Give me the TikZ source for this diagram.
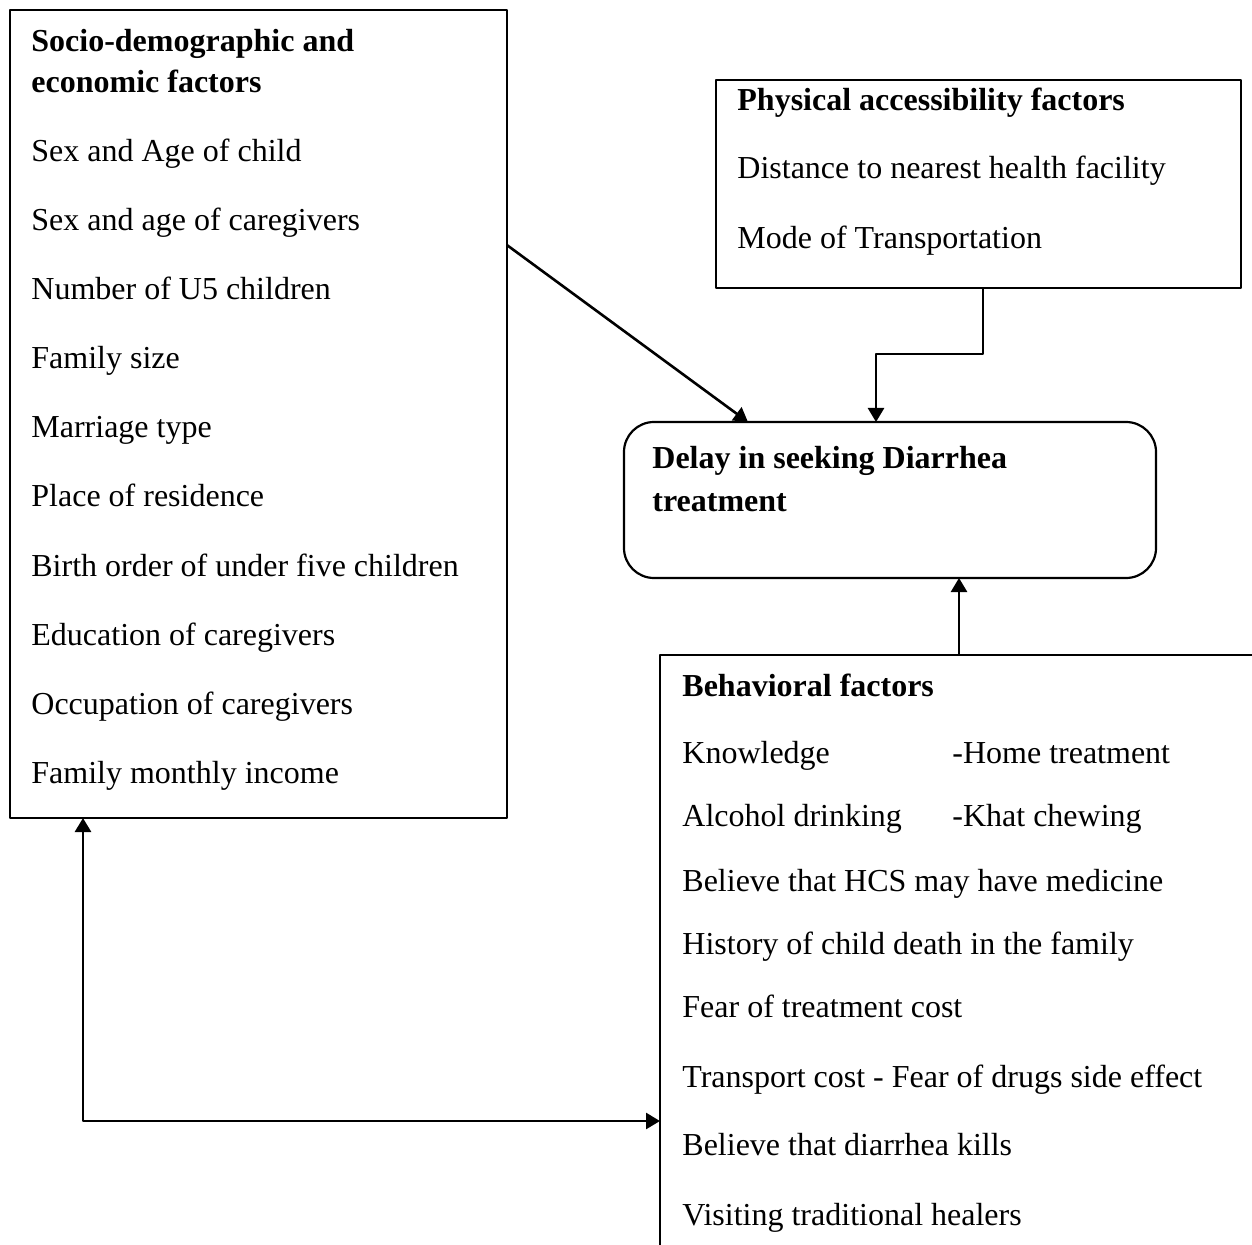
\documentclass[tikz,border=0pt]{standalone}
\usepackage{fontspec}
\setmainfont{Liberation Serif}
\usetikzlibrary{arrows.meta,calc}
\tikzset{
	box/.style={draw,line width=1.1pt,inner sep=0pt,outer sep=0pt},
	txt/.style={anchor=base west,inner sep=0pt},
	ttl/.style={txt,font=\fontsize{16}{18}\selectfont\bfseries},
	conn/.style={line width=1.3pt}
}
\begin{document}
\begin{tikzpicture}[x=0.5pt,y=-0.5pt,>={Triangle[length=7pt,width=8pt]},line join=round,font=\fontsize{16}{18}\selectfont]
	\useasboundingbox (0,0) rectangle (1252,1245);
	% boxes
	\node[box,minimum width=248.5pt,minimum height=404pt] (soc) at (258.5,414) {};
	\node[box,minimum width=262.5pt,minimum height=104pt] (phys) at (978.5,184) {};
	\node[box,rounded corners=15pt,minimum width=266pt,minimum height=78pt] (delay) at (890,500) {};
	\node[box,minimum width=320pt,minimum height=322.5pt] (beh) at (980,977.5) {};
	% socio-demographic
	\node[ttl] (soct1) at (31,52) {Socio-demographic and};
	\node[ttl] (soct2) at (31,93) {economic factors};
	\foreach \t [count=\i] in {Sex and Age of child,Sex and age of caregivers,Number of U5 children,Family size,Marriage type,Place of residence,Birth order of under five children,Education of caregivers,Occupation of caregivers,Family monthly income}
		\node[txt] (soc\i) at (31,{93+69*\i}) {\t};
	% physical accessibility
	\node[ttl] (physt) at (737,111) {Physical accessibility factors};
	\node[txt] (phys1) at (737,179) {Distance to nearest health facility};
	\node[txt] (phys2) at (737,249) {Mode of Transportation};
	% outcome
	\node[ttl] (delt1) at (652,469) {Delay in seeking Diarrhea};
	\node[ttl] (delt2) at (652,512) {treatment};
	% behavioral
	\node[ttl] (beht) at (682,696) {Behavioral factors};
	\node[txt] (beh1) at (682,763) {Knowledge};
	\node[txt] (beh1b) at (952,763) {-Home treatment};
	\node[txt] (beh2) at (682,826) {Alcohol drinking};
	\node[txt] (beh2b) at (952,826) {-Khat chewing};
	\node[txt] (beh3) at (682,891) {Believe that HCS may have medicine};
	\node[txt] (beh4) at (682,954) {History of child death in the family};
	\node[txt] (beh5) at (682,1017) {Fear of treatment cost};
	\node[txt] (beh6) at (682,1087) {Transport cost - Fear of drugs side effect};
	\node[txt] (beh7) at (682,1155) {Believe that diarrhea kills};
	\node[txt] (beh8) at (682,1225) {Visiting traditional healers};
	% connectors
	\draw[->,conn] ($(soc.north east)!0.291!(soc.south east)$) -- ($(delay.north west)!0.233!(delay.north east)$);
	\coordinate (p1) at ($(phys.south west)!0.5086!(phys.south east)$);
	\coordinate (d1) at ($(delay.north west)!0.4737!(delay.north east)$);
	\draw[->,conn] (p1) -- ++(0,66) -| (d1);
	\coordinate (b1) at ($(beh.north west)+(299,0)$);
	\draw[->,conn] (b1) -- (b1 |- delay.south);
	\coordinate (s1) at ($(soc.south west)+(73,0)$);
	\coordinate (m1) at (83,1121);
	\draw[<->,conn] (s1) |- (m1 -| beh.west);
\end{tikzpicture}
\end{document}
